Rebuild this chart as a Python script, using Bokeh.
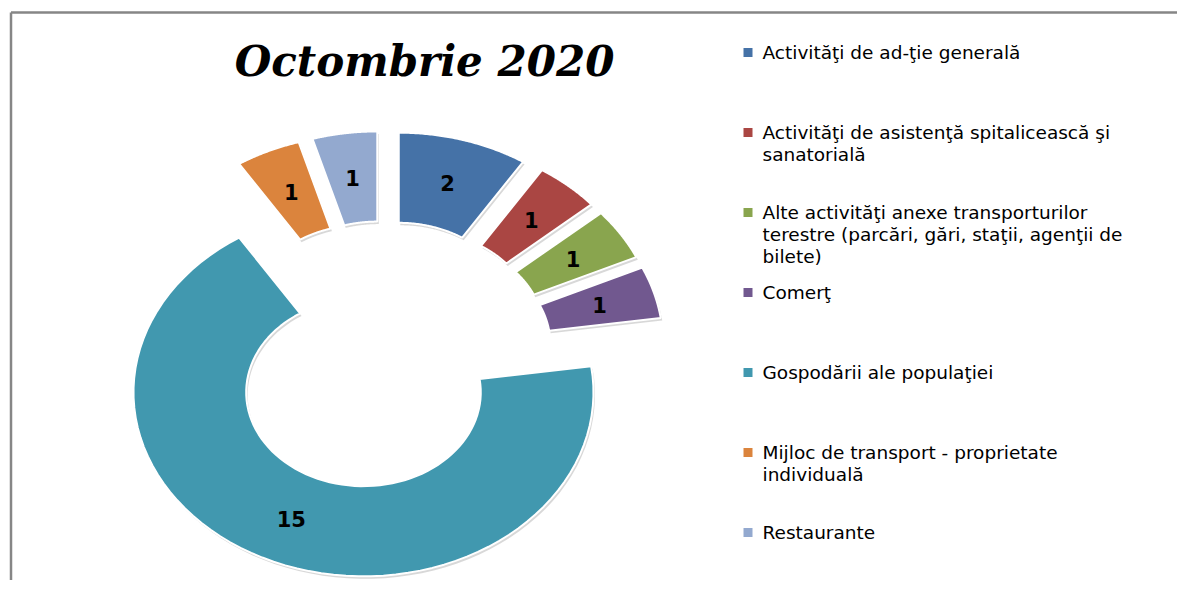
import textwrap
import numpy as np
from bokeh.plotting import figure
from bokeh.models import Range1d, ColumnDataSource
from bokeh.core.properties import value
from bokeh.embed import file_html
from bokeh.resources import INLINE

# ---------------- data ----------------
title_text = "Octombrie 2020"
categories = [
    "Activităţi de ad-ţie generală",
    "Activităţi de asistenţă spitalicească şi sanatorială",
    "Alte activităţi anexe transporturilor terestre (parcări, gări, staţii, agenţii de bilete)",
    "Comerţ",
    "Gospodării ale populaţiei",
    "Mijloc de transport - proprietate individuală",
    "Restaurante",
]
values = [2, 1, 1, 1, 15, 1, 1]
colors = ["#4572A7", "#AA4643", "#89A54E", "#71588F", "#4198AF", "#DB843D", "#93A9CF"]

# ---------------- layout / style ----------------
W, H = 1177, 580
CX, CY = 384, 225          # donut centre (plot units = px)
RX, RY = 230, 184          # outer radii (elliptical look)
HOLE = 0.51                # inner radius fraction
EXPLODE = 0.22             # explosion fraction of outer radius
LABEL_R = 0.755            # label radius fraction

p = figure(width=W, height=H, output_backend="svg", toolbar_location=None,
           x_range=Range1d(0, W), y_range=Range1d(0, H),
           min_border=0, outline_line_color=None, background_fill_color="white")
p.axis.visible = False
p.grid.visible = False

total = float(sum(values))
ends = np.cumsum(values) / total * 360.0
starts = ends - np.array(values) / total * 360.0

xs, ys, sxs, sys_, lx, ly = [], [], [], [], [], []
for a0, a1 in zip(starts, ends):
    mid = np.radians((a0 + a1) / 2)
    ox = RX * EXPLODE * np.sin(mid)
    oy = RY * EXPLODE * np.cos(mid)
    t = np.radians(np.linspace(a0, a1, 80))
    px = np.concatenate([np.sin(t), HOLE * np.sin(t[::-1])])
    py = np.concatenate([np.cos(t), HOLE * np.cos(t[::-1])])
    X = CX + ox + RX * px
    Y = CY + oy + RY * py
    xs.append(list(X)); ys.append(list(Y))
    sxs.append(list(X + 1.5)); sys_.append(list(Y - 2.5))
    lx.append(CX + ox + RX * LABEL_R * np.sin(mid))
    ly.append(CY + oy + RY * LABEL_R * np.cos(mid))

# shadow
p.patches(xs=sxs, ys=sys_, fill_color="#7f7f7f", fill_alpha=0.3, line_color=None)
src = ColumnDataSource(dict(xs=xs, ys=ys, color=colors, cat=categories))
p.patches(xs="xs", ys="ys", fill_color="color", line_color="white", line_width=2, source=src)

# data labels
p.text(x=lx, y=ly, text=[str(v) for v in values], text_align="center", text_baseline="middle",
       text_font=value("DejaVu Sans"), text_font_style="bold", text_font_size="21px",
       text_color="black")

# title
p.text(x=[424], y=[519], text=[title_text], text_align="center", text_baseline="middle",
       text_font=value("DejaVu Serif"), text_font_style="bold italic", text_font_size="42px",
       text_color="black")

# legend (manual, evenly distributed like the original)
LEG_X_SQ, LEG_X_TXT, LEG_TOP, LEG_PITCH = 747.5, 762, 528, 80
n = len(categories)
leg_y = [LEG_TOP - i * LEG_PITCH for i in range(n)]
wrapped = ["\n".join(textwrap.wrap(c, 43)) for c in categories]
p.scatter(x=[LEG_X_SQ] * n, y=leg_y, marker="square", size=9, fill_color=colors, line_color=None)
p.text(x=[LEG_X_TXT] * n, y=[y + 10.5 for y in leg_y], text=wrapped, text_align="left",
       text_baseline="top", text_font=value("DejaVu Sans"), text_font_size="18.5px",
       text_line_height=1.05, text_color="black")

# chart-area border (left and top edges visible)
p.segment(x0=[10.5, 10.5], y0=[568, 568], x1=[10.5, W], y1=[0, 568], line_color="#868686", line_width=2.5)

open("out.html", "w").write(file_html(p, INLINE))
